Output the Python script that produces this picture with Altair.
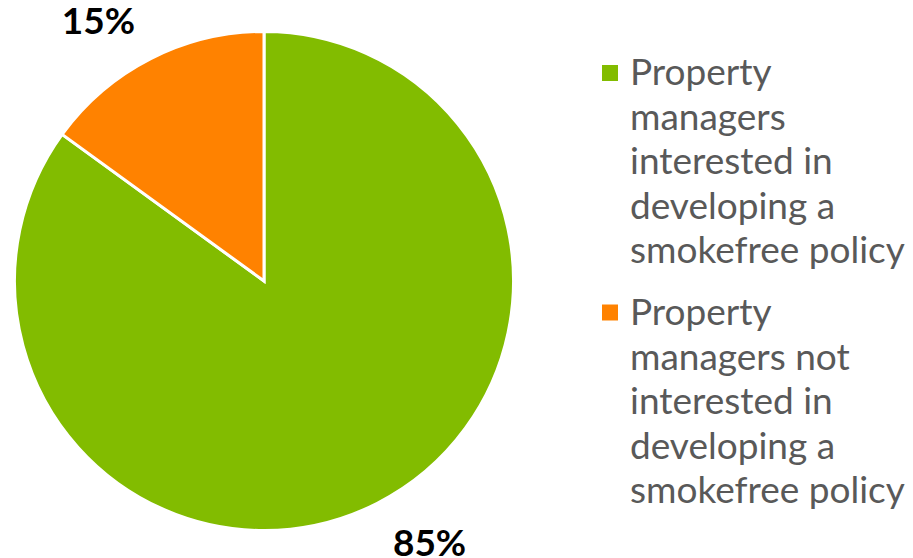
import altair as alt
import pandas as pd

categories = [
    "Property managers interested in developing a smokefree policy",
    "Property managers not interested in developing a smokefree policy",
]
values = [85, 15]
colors = ["#82BC00", "#FF8200"]
legend_lines = [
    ["Property", "managers", "interested in", "developing a", "smokefree policy"],
    ["Property", "managers not", "interested in", "developing a", "smokefree policy"],
]

df = pd.DataFrame({
    "idx": list(range(len(categories))),
    "category": categories,
    "value": values,
    "legend": ["\n".join(l) for l in legend_lines],
})

CX, CY, R = 256, 273, 249.5
FONT = "Lato"

color_scale = alt.Scale(domain=categories, range=colors)

base = alt.Chart(df)

pie = base.mark_arc(radius=R, stroke="white", strokeWidth=3).encode(
    theta=alt.Theta("value:Q", stack=True, scale=alt.Scale(domain=[0, 100])),
    order=alt.Order("idx:Q"),
    color=alt.Color("category:N", scale=color_scale, legend=None),
    x=alt.value(CX),
    y=alt.value(CY),
)

labels = base.transform_window(
    cum="sum(value)", sort=[alt.SortField("idx")]
).transform_calculate(
    mid="datum.cum - datum.value / 2 - 1.5",
    label="datum.value + '%'",
).mark_text(
    radius=309, dy=3, font=FONT, fontSize=37, fontWeight="bold", color="#000000"
).encode(
    theta=alt.Theta("mid:Q", stack=None, scale=alt.Scale(domain=[0, 100])),
    text="label:N",
    x=alt.value(CX),
    y=alt.value(CY),
)

legend_sq = base.transform_calculate(
    ly="65 + 239.5 * datum.idx"
).mark_square(size=256, opacity=1).encode(
    x=alt.value(602),
    y=alt.Y("ly:Q", scale=None, axis=None),
    color=alt.Color("category:N", scale=color_scale, legend=None),
)

legend_txt = base.transform_calculate(
    ly="77 + 240 * datum.idx"
).mark_text(
    align="left", baseline="alphabetic", font=FONT, fontSize=37,
    color="#595959", lineBreak="\n", lineHeight=44.5,
).encode(
    x=alt.value(622),
    y=alt.Y("ly:Q", scale=None, axis=None),
    text="legend:N",
)

chart = alt.layer(pie, labels, legend_sq, legend_txt).properties(
    width=897, height=550, padding=0, autosize="none"
).configure_view(stroke=None)

chart.save("out.html", embed_options={"renderer": "svg", "actions": False})
